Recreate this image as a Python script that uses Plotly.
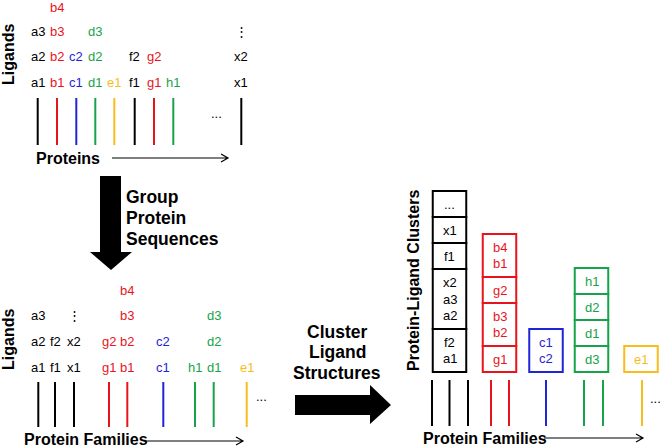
import plotly.graph_objects as go

# ---------------- content ----------------
COLORS = {"k": "#000000", "r": "#e8141c", "b": "#1f25d6", "g": "#17a34a", "y": "#f7bd1a"}

# Top panel: proteins (one line each) with their ligands, bottom -> top
top_ligands = [["a1", "a2", "a3"], ["b1", "b2", "b3", "b4"], ["c1", "c2"], ["d1", "d2", "d3"],
               ["e1"], ["f1", "f2"], ["g1", "g2"], ["h1"], ["x1", "x2", "⋮"]]
top_colors = ["k", "r", "b", "g", "y", "k", "r", "g", "k"]

# Middle panel: proteins grouped into families
grp_ligands = [["a1", "a2", "a3"], ["f1", "f2"], ["x1", "x2", "⋮"], ["g1", "g2"],
               ["b1", "b2", "b3", "b4"], ["c1", "c2"], ["h1"], ["d1", "d2", "d3"], ["e1"]]
grp_colors = ["k", "k", "k", "r", "r", "b", "g", "g", "y"]

# Right panel: protein-ligand clusters per family (cells bottom -> top)
family_clusters = [
    [["f2", "a1"], ["x2", "a3", "a2"], ["f1"], ["x1"], ["..."]],
    [["g1"], ["b3", "b2"], ["g2"], ["b4", "b1"]],
    [["c1", "c2"]],
    [["d3"], ["d1"], ["d2"], ["h1"]],
    [["e1"]],
]
family_colors = ["k", "r", "b", "g", "y"]
family_line_colors = ["k", "k", "k", "r", "r", "b", "g", "g", "y"]

# ---------------- layout positions (pixels of the 662x447 window) ----------------
top_x = [37.7, 57, 76.3, 95.3, 114.3, 134.7, 154, 173.3, 241.3]
top_rows_y = [82, 56.5, 31, 7]
top_line_y = (98, 145)

mid_x = [38.3, 55, 74, 109, 127.3, 163.3, 195, 213.7, 246.7]
mid_rows_y = [367, 341, 315.5, 290]
mid_line_y = (382, 427)

right_x = [432, 449.5, 468, 491, 509, 546, 584, 603, 642]
right_line_y = (380, 426)
box_cx = [449.5, 499.5, 546, 591.5, 641]
box_w = 33.5
box_bottom = 372

FONT = "Arial, Liberation Sans, sans-serif"
shapes = []
annots = []


def text(x, y, s, size=13, color="#000", bold=False, angle=0, xanchor="center"):
    annots.append(dict(x=x, y=y, xref="x", yref="y", text=("<b>%s</b>" % s) if bold else s,
                       showarrow=False, textangle=angle, xanchor=xanchor, yanchor="middle",
                       borderpad=0, font=dict(family=FONT, size=size, color=color)))


def vline(x, y0, y1, color):
    shapes.append(dict(type="line", xref="x", yref="y", x0=x, x1=x, y0=y0, y1=y1,
                       line=dict(color=color, width=2)))


def thin_arrow(x0, x1, y):
    shapes.append(dict(type="path", xref="x", yref="y",
                       path=f"M{x0},{y} L{x1},{y} M{x1-7},{y-4} L{x1},{y} L{x1-7},{y+4}",
                       line=dict(color="#000", width=1.2)))


# top panel
for x, labs, c in zip(top_x, top_ligands, top_colors):
    vline(x, *top_line_y, COLORS[c])
    for lab, y in zip(labs, top_rows_y):
        text(x, y, lab, color=COLORS[c])
text(216, 113, "...", size=13)
text(8, 55, "Ligands", size=16, bold=True, angle=-90)
text(35, 158, "Proteins", size=16, bold=True, xanchor="left")
thin_arrow(112, 228, 158)

# down arrow
shapes.append(dict(type="path", xref="x", yref="y",
                   path="M100,176 L121,176 L121,252 L132,252 L111,270 L90,252 L100,252 Z",
                   fillcolor="#000", line=dict(color="#000", width=0)))
for y, s in zip([197, 218, 238.5], ["Group", "Protein", "Sequences"]):
    text(125, y, s, size=17.5, bold=True, xanchor="left")

# middle panel
for x, labs, c in zip(mid_x, grp_ligands, grp_colors):
    vline(x, *mid_line_y, COLORS[c])
    for lab, y in zip(labs, mid_rows_y):
        text(x, y, lab, color=COLORS[c])
text(261, 396, "...", size=13)
text(8, 340, "Ligands", size=16, bold=True, angle=-90)
text(23, 439, "Protein Families", size=16, bold=True, xanchor="left")
thin_arrow(146, 243, 441)

# right arrow
shapes.append(dict(type="path", xref="x", yref="y",
                   path="M295,395 L370,395 L370,385 L391,405 L370,424 L370,415 L295,415 Z",
                   fillcolor="#000", line=dict(color="#000", width=0)))
for y, s in zip([332, 352, 373], ["Cluster", "Ligand", "Structures"]):
    text(337, y, s, size=17.5, bold=True)

# right panel
text(413, 281, "Protein-Ligand Clusters", size=16, bold=True, angle=-90)
for cx, cells, c in zip(box_cx, family_clusters, family_colors):
    col = COLORS[c]
    y = box_bottom
    for cell in cells:
        h = 26 + 17 * (len(cell) - 1)
        shapes.append(dict(type="rect", xref="x", yref="y", x0=cx - box_w / 2, x1=cx + box_w / 2,
                           y0=y - h, y1=y, line=dict(color=col, width=2), fillcolor="rgba(0,0,0,0)"))
        cy = y - h / 2
        n = len(cell)
        for i, lab in enumerate(cell):
            text(cx, cy + (i - (n - 1) / 2) * 16.5, lab, color=col)
        y -= h
for x, c in zip(right_x, family_line_colors):
    vline(x, *right_line_y, COLORS[c])
text(655, 398, "...", size=13)
text(422, 438, "Protein Families", size=16, bold=True, xanchor="left")
thin_arrow(544, 643, 438)

fig = go.Figure()
fig.update_layout(
    width=662, height=447, autosize=False,
    margin=dict(l=0, r=0, t=0, b=0, pad=0),
    paper_bgcolor="white", plot_bgcolor="white",
    xaxis=dict(range=[0, 662], visible=False, fixedrange=True),
    yaxis=dict(range=[447, 0], visible=False, fixedrange=True),
    shapes=shapes, annotations=annots, showlegend=False,
)
fig.write_html("out.html", config={"displayModeBar": False},
               post_script="document.body.style.margin='0';document.body.style.overflow='hidden';")
